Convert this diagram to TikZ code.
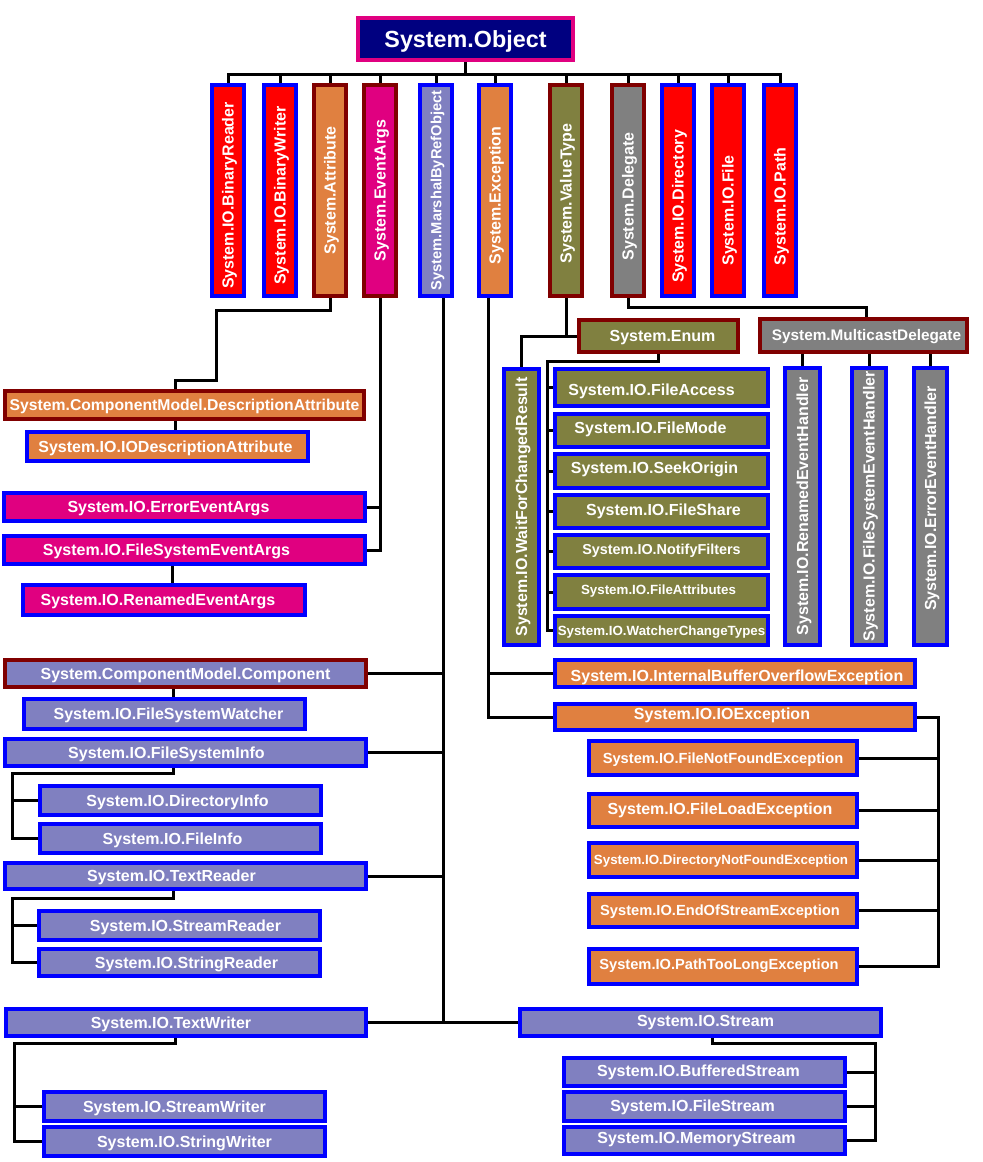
\documentclass[tikz,border=0pt]{standalone}
\usepackage{fontspec}
\setmainfont{Liberation Sans}
\usetikzlibrary{backgrounds}
\definecolor{cred}{RGB}{255,0,0}
\definecolor{cblue}{RGB}{0,0,255}
\definecolor{cdred}{RGB}{128,0,0}
\definecolor{corange}{RGB}{224,128,64}
\definecolor{cmag}{RGB}{224,0,128}
\definecolor{clav}{RGB}{128,128,192}
\definecolor{coli}{RGB}{128,128,64}
\definecolor{cgry}{RGB}{128,128,128}
\definecolor{cnavy}{RGB}{0,0,128}
\tikzset{
  box/.style={line width=3pt, inner sep=0pt, outer sep=0pt},
  bObj/.style={box, fill=cnavy, draw=cmag},
  bRedB/.style={box, fill=cred, draw=cblue},
  bOrD/.style={box, fill=corange, draw=cdred},
  bOrB/.style={box, fill=corange, draw=cblue},
  bMagD/.style={box, fill=cmag, draw=cdred},
  bMagB/.style={box, fill=cmag, draw=cblue},
  bLavB/.style={box, fill=clav, draw=cblue},
  bLavD/.style={box, fill=clav, draw=cdred},
  bOliD/.style={box, fill=coli, draw=cdred},
  bOliB/.style={box, fill=coli, draw=cblue},
  bGryD/.style={box, fill=cgry, draw=cdred},
  bGryB/.style={box, fill=cgry, draw=cblue},
  fs/.code={\pgfmathsetmacro\fsheight{0.716*#1}%
    \tikzset{font=\bfseries\fontsize{#1}{#1}\selectfont, text height=\fsheight pt, text depth=0pt}},
  txt/.style={text=white, inner sep=0pt, fs=12},
  vt/.style={rotate=90},
  conn/.style={line width=2.25pt, draw=black},
}
\newcommand\bx[8]{%
  \pgfmathsetmacro\bxcx{(#2+#4)/2}%
  \pgfmathsetmacro\bxcy{(#3+#5)/2}%
  \pgfmathsetmacro\bxww{(#4-#2-4)*0.75}%
  \pgfmathsetmacro\bxhh{(#5-#3-4)*0.75}%
  \node[#6, minimum width=\bxww pt, minimum height=\bxhh pt] (#1) at (\bxcx,\bxcy) {};
  \node[txt, #7] (#1l) at (\bxcx,\bxcy) {#8};%
}
\begin{document}
\begin{tikzpicture}[x=0.75pt,y=-0.75pt]
\useasboundingbox (0,0) rectangle (982,1162);
% top
\bx{obj}{356}{16}{575}{62}{bObj}{fs=17.5}{System.Object}
\bx{br}{210}{83}{246}{298}{bRedB}{shift={(0,5)},vt}{System.IO.BinaryReader}
\bx{bw}{262}{83}{298}{298}{bRedB}{shift={(0,5)},vt}{System.IO.BinaryWriter}
\bx{attr}{312}{83}{348}{298}{bOrD}{vt}{System.Attribute}
\bx{ea}{362}{83}{398}{298}{bMagD}{vt}{System.EventArgs}
\bx{mbr}{418}{83}{454}{298}{bLavB}{fs=11,vt}{System.MarshalByRefObject}
\bx{exc}{477}{83}{513}{298}{bOrB}{shift={(0,5)},vt}{System.Exception}
\bx{vt}{548}{83}{584}{298}{bOliD}{shift={(0,3)},vt}{System.ValueType}
\bx{del}{610}{83}{646}{298}{bGryD}{shift={(0,6)},vt}{System.Delegate}
\bx{dir}{660}{83}{696}{298}{bRedB}{shift={(0,16)},vt}{System.IO.Directory}
\bx{file}{710}{83}{746}{298}{bRedB}{shift={(0,20)},vt}{System.IO.File}
\bx{path}{762}{83}{798}{298}{bRedB}{shift={(0,16)},vt}{System.IO.Path}
% left column
\bx{descattr}{3}{389}{366}{421}{bOrD}{fs=11.8}{System.ComponentModel.DescriptionAttribute}
\bx{iodesc}{25}{430}{310}{463}{bOrB}{shift={(-2,0)}}{System.IO.IODescriptionAttribute}
\bx{erea}{2}{491}{367}{523}{bMagB}{shift={(-16,0)}}{System.IO.ErrorEventArgs}
\bx{fsea}{2}{534}{367}{566}{bMagB}{shift={(-18,0)}}{System.IO.FileSystemEventArgs}
\bx{renea}{21}{583}{307}{617}{bMagB}{shift={(-6,0)}}{System.IO.RenamedEventArgs}
\bx{comp}{3}{658}{368}{689}{bLavD}{}{System.ComponentModel.Component}
\bx{fsw}{22}{697}{307}{731}{bLavB}{shift={(4,0)}}{System.IO.FileSystemWatcher}
\bx{fsi}{3}{737}{368}{768}{bLavB}{shift={(-19,0)}}{System.IO.FileSystemInfo}
\bx{dirinfo}{38}{784}{323}{817}{bLavB}{shift={(-3,0)}}{System.IO.DirectoryInfo}
\bx{fileinfo}{38}{822}{323}{855}{bLavB}{shift={(-8,0)}}{System.IO.FileInfo}
\bx{tr}{3}{861}{368}{891}{bLavB}{shift={(-14,0)}}{System.IO.TextReader}
\bx{sr}{37}{909}{322}{942}{bLavB}{shift={(6,0)}}{System.IO.StreamReader}
\bx{strr}{37}{947}{322}{978}{bLavB}{shift={(7,0)}}{System.IO.StringReader}
\bx{tw}{4}{1007}{368}{1038}{bLavB}{shift={(-15,0)}}{System.IO.TextWriter}
\bx{sw}{42}{1090}{327}{1123}{bLavB}{shift={(-10,0)}}{System.IO.StreamWriter}
\bx{stw}{42}{1125}{327}{1158}{bLavB}{}{System.IO.StringWriter}
% streams
\bx{stream}{518}{1007}{883}{1038}{bLavB}{shift={(5,-2)}}{System.IO.Stream}
\bx{bs}{562}{1056}{847}{1088}{bLavB}{shift={(-6,-1)}}{System.IO.BufferedStream}
\bx{fs}{562}{1090}{847}{1123}{bLavB}{shift={(-12,-1)}}{System.IO.FileStream}
\bx{ms}{562}{1125}{847}{1156}{bLavB}{shift={(-8,-3)}}{System.IO.MemoryStream}
% value types
\bx{enum}{577}{318}{740}{354}{bOliD}{shift={(4,0)}}{System.Enum}
\bx{md}{758}{317}{969}{354}{bGryD}{fs=11.5,shift={(3,0)}}{System.MulticastDelegate}
\bx{wfcr}{502}{367}{541}{647}{bOliB}{vt}{System.IO.WaitForChangedResult}
\bx{fa}{553}{367}{770}{408}{bOliB}{shift={(-10,2)}}{System.IO.FileAccess}
\bx{fm}{553}{412}{770}{449}{bOliB}{shift={(-11,-3)}}{System.IO.FileMode}
\bx{so}{553}{452}{770}{490}{bOliB}{shift={(-7,-3)}}{System.IO.SeekOrigin}
\bx{fsh}{553}{493}{770}{530}{bOliB}{shift={(2,-2)}}{System.IO.FileShare}
\bx{nf}{553}{533}{770}{570}{bOliB}{fs=10.8,shift={(0,-2)}}{System.IO.NotifyFilters}
\bx{fat}{553}{573}{770}{611}{bOliB}{fs=10,shift={(-3,-2)}}{System.IO.FileAttributes}
\bx{wct}{553}{614}{770}{647}{bOliB}{fs=10}{System.IO.WatcherChangeTypes}
\bx{reh}{783}{366}{822}{647}{bGryB}{vt}{System.IO.RenamedEventHandler}
\bx{fseh}{850}{366}{888}{647}{bGryB}{vt}{System.IO.FileSystemEventHandler}
\bx{eeh}{912}{366}{949}{647}{bGryB}{shift={(0,-8)},vt}{System.IO.ErrorEventHandler}
% exceptions
\bx{iboe}{553}{658}{917}{689}{bOrB}{shift={(2,2)}}{System.IO.InternalBufferOverflowException}
\bx{ioe}{553}{702}{917}{732}{bOrB}{shift={(-13,-3)}}{System.IO.IOException}
\bx{fnf}{587}{739}{859}{777}{bOrB}{fs=11}{System.IO.FileNotFoundException}
\bx{fle}{587}{792}{859}{829}{bOrB}{shift={(-3,-2)}}{System.IO.FileLoadException}
\bx{dnf}{587}{841}{859}{879}{bOrB}{fs=10,shift={(-2,0)}}{System.IO.DirectoryNotFoundException}
\bx{eos}{587}{892}{859}{929}{bOrB}{fs=11,shift={(-3,0)}}{System.IO.EndOfStreamException}
\bx{ptl}{587}{947}{859}{986}{bOrB}{fs=11,shift={(-4,-2)}}{System.IO.PathTooLongException}

\begin{pgfonlayer}{background}
\fill[white] (0,0) rectangle (982,1162);
\coordinate (bus) at (466,75);
\draw[conn] (obj.south) -- (obj.south |- bus);
\draw[conn] (br.north) -- (br.north |- bus) -- (path.north |- bus) -- (path.north);
\foreach \n in {bw,attr,ea,mbr,exc,vt,del,dir,file}{\draw[conn] (\n.north) -- (\n.north |- bus);}
% attribute
\draw[conn] (attr.south) |- (216,310) |- (175,380) -- (descattr.north -| 175,0);
\draw[conn] (descattr.south -| 175,0) -- (iodesc.north -| 175,0);
% event args
\draw[conn] (ea.south) |- (fsea.east);
\draw[conn] (erea.east) -- (erea.east -| ea.south);
\draw[conn] (fsea.south -| 172,0) -- (renea.north -| 172,0);
% marshal by ref
\draw[conn] (mbr.south -| 443,0) -- (tw.east -| 443,0);
\draw[conn] (comp.east) -- (comp.east -| 443,0);
\draw[conn] (fsi.east) -- (fsi.east -| 443,0);
\draw[conn] (tr.east) -- (tr.east -| 443,0);
\draw[conn] (tw.east) -- (stream.west);
\draw[conn] (comp.south -| 173,0) -- (fsw.north -| 173,0);
\draw[conn] (fsi.south -| 173,0) |- (12,773) |- (fileinfo.west);
\draw[conn] (dirinfo.west) -- (dirinfo.west -| 12,0);
\draw[conn] (tr.south -| 173,0) |- (12,898) |- (strr.west);
\draw[conn] (sr.west) -- (sr.west -| 12,0);
\draw[conn] (tw.south -| 175,0) |- (14,1043) |- (stw.west);
\draw[conn] (sw.west) -- (sw.west -| 14,0);
\draw[conn] (stream.south -| 712,0) |- (875,1043) |- (ms.east);
\draw[conn] (bs.east) -- (bs.east -| 875,0);
\draw[conn] (fs.east) -- (fs.east -| 875,0);
% exception
\draw[conn] (exc.south -| 488,0) |- (ioe.west);
\draw[conn] (iboe.west) -- (iboe.west -| 488,0);
\draw[conn] (ioe.east) -| (ptl.east -| 938,0) -- (ptl.east);
\foreach \n in {fnf,fle,dnf,eos}{\draw[conn] (\n.east) -- (\n.east -| 938,0);}
% value type
\draw[conn] (vt.south) -- (vt.south |- enum.west);
\draw[conn] (wfcr.north) |- (enum.west);
\draw[conn] (enum.south) |- (547,361) |- (wct.west);
\foreach \n in {fa,fm,so,fsh,nf,fat}{\draw[conn] (\n.west) -- (\n.west -| 547,0);}
% delegate
\draw[conn] (del.south) |- (866,307) -- (md.north -| 866,0);
\foreach \n in {reh,fseh,eeh}{\draw[conn] (\n.north) -- (\n.north |- md.south);}
\end{pgfonlayer}
\end{tikzpicture}
\end{document}
